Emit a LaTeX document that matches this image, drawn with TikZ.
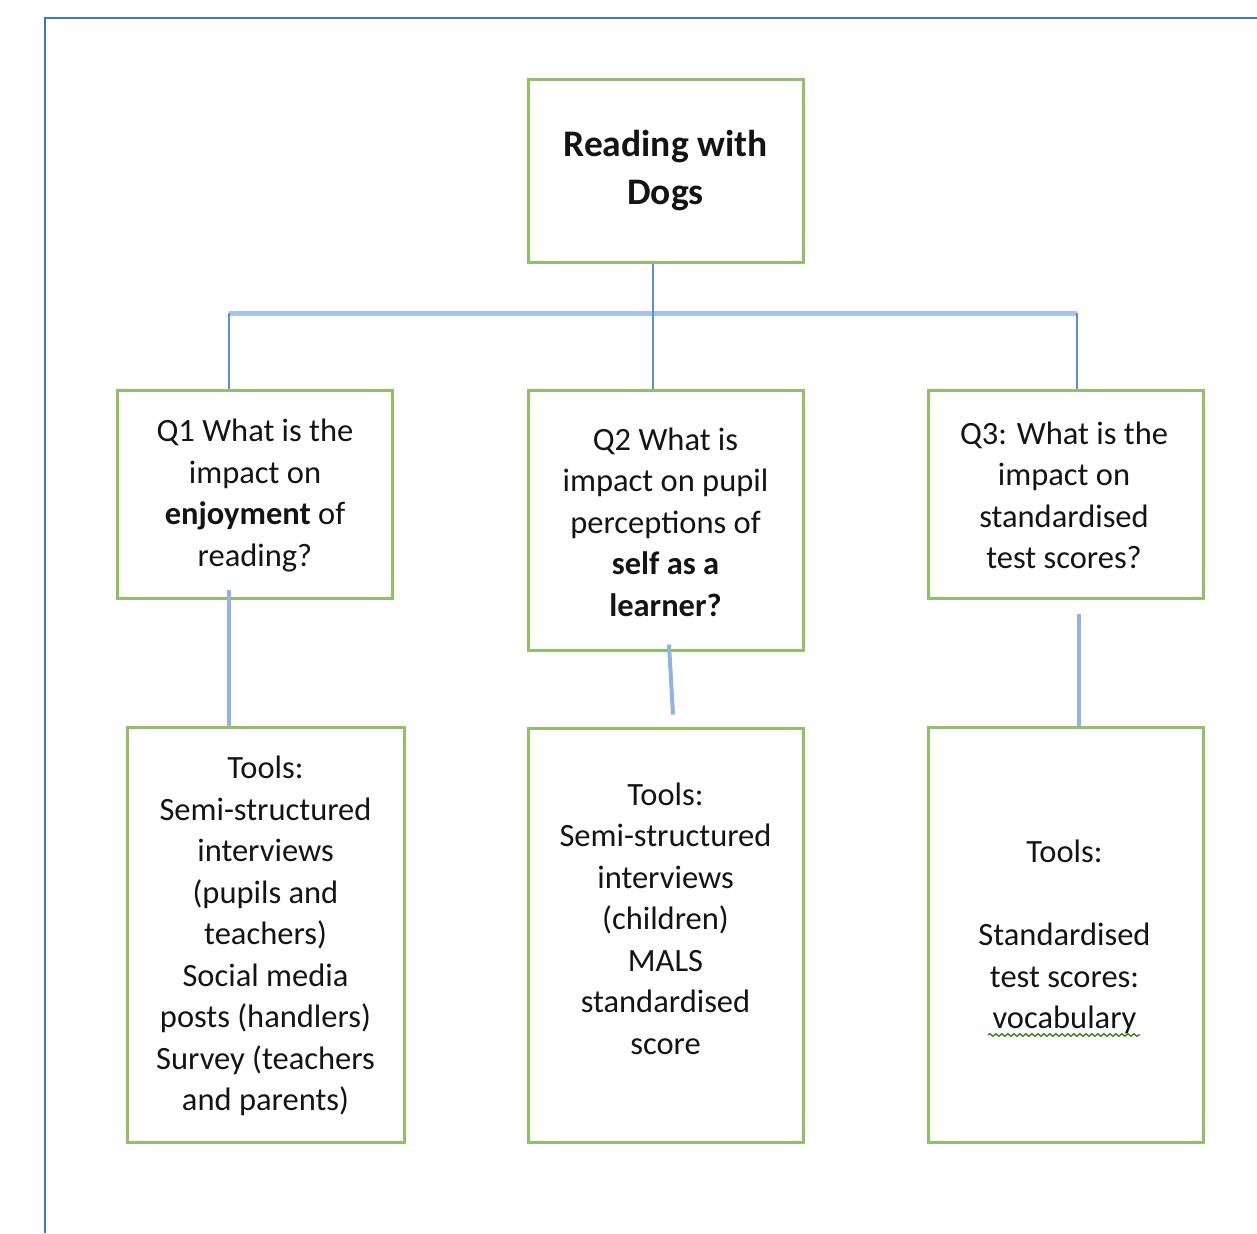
\documentclass[tikz,border=0pt]{standalone}
\usepackage{fontspec}
\setmainfont{Carlito}
\usetikzlibrary{decorations.pathmorphing}
\definecolor{boxgreen}{RGB}{146,192,104}
\definecolor{frameblue}{RGB}{68,114,196}
\definecolor{linkblue}{RGB}{96,142,212}
\definecolor{barblue}{RGB}{168,196,234}
\definecolor{wavygreen}{RGB}{56,128,32}
\definecolor{txt}{RGB}{20,20,20}
\begin{document}
\begin{tikzpicture}[x=1pt,y=-1pt,
  box/.style={draw=boxgreen,line width=3pt,rectangle,inner sep=0pt},
  txtnode/.style={align=center,text=txt,inner sep=0pt,font=\fontsize{32.5}{41.5}\selectfont},
  link/.style={draw=linkblue,line width=2pt},
  barlink/.style={draw=barblue,line width=5pt},
  softlink/.style={draw=barblue!70!linkblue,line width=4pt},
  framestyle/.style={draw=frameblue,line width=2.5pt}]
\useasboundingbox (0,0) rectangle (1257,1233);
\draw[framestyle] (45,1233) -- (45,18) -- (1257,18);

% boxes
\node[box,minimum width=275pt,minimum height=182pt] (top) at (665.5,171) {};
\node[box,minimum width=275pt,minimum height=208pt] (q1) at (254.5,494) {};
\node[box,minimum width=275pt,minimum height=260pt] (q2) at (665.5,520) {};
\node[box,minimum width=275pt,minimum height=208pt] (q3) at (1065.5,494) {};
\node[box,minimum width=277pt,minimum height=415pt] (t1) at (265.5,934.5) {};
\node[box,minimum width=275pt,minimum height=414pt] (t2) at (665.5,935) {};
\node[box,minimum width=275pt,minimum height=415pt] (t3) at (1065.5,934.5) {};

% texts
\node[txtnode,font=\fontsize{37.5}{48}\selectfont\bfseries] (toptxt) at (665.5,171) {Reading with\\Dogs};
\node[txtnode] (q1txt) at (255,495.5) {Q1 What is the\\impact on\\\textbf{enjoyment} of\\reading?};
\node[txtnode] (q2txt) at (665.5,522) {Q2 What is\\impact on pupil\\perceptions of\\\textbf{self as a}\\\textbf{learner?}};
\node[txtnode] (q3txt) at (1064,495.5) {Q3: What is the\\impact on\\standardised\\test scores?};
\node[txtnode] (t1txt) at (265.5,936) {Tools:\\Semi-structured\\interviews\\(pupils and\\teachers)\\Social media\\posts (handlers)\\Survey (teachers\\and parents)};
\node[txtnode] (t2txt) at (665.5,918.5) {Tools:\\Semi-structured\\interviews\\(children)\\MALS\\standardised\\score};
\node[txtnode] (t3txt) at (1064.5,937) {Tools:\\\mbox{}\\Standardised\\test scores:\\vocabulary};
\draw[wavygreen,line width=1.4pt,decorate,decoration={snake,segment length=6pt,amplitude=1.3pt}] (988,1035) -- (1140,1035);

% connectors
\coordinate (barL) at (229,313);
\coordinate (barR) at (1077,313);
\draw[barlink] (barL) -- (barR);
\draw[link] ([xshift=-12.5pt]top.south) -- ([xshift=-12.5pt]q2.north);
\draw[link] (barL) -- (barL |- q1.north);
\draw[link] (barR) -- (barR |- q3.north);
\draw[softlink] ([xshift=-25.5pt,yshift=10pt]q1.south) -- ([xshift=-36.5pt]t1.north);
\draw[softlink] ([xshift=3.5pt,yshift=7pt]q2.south) -- ([xshift=7.5pt,yshift=12pt]t2.north);
\draw[softlink] ([xshift=13.5pt,yshift=-14pt]q3.south) -- ([xshift=13.5pt]t3.north);
\end{tikzpicture}
\end{document}
